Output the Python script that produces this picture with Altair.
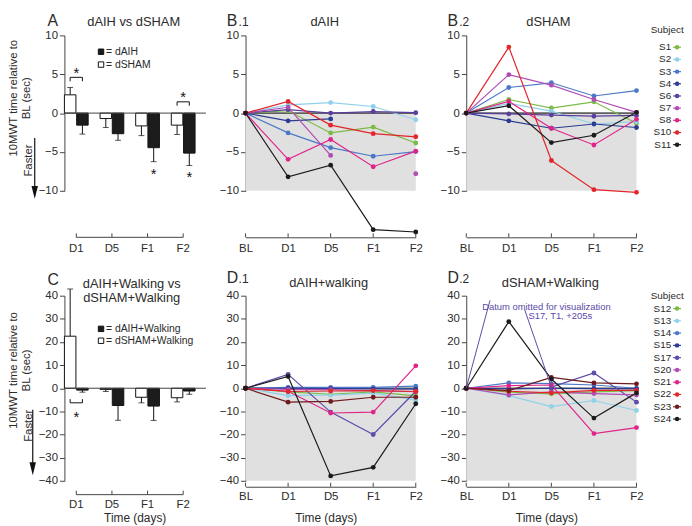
import altair as alt
import pandas as pd

FONT = "Liberation Sans"
INK = "#2b2b2b"
AXIS_C = "#444444"
SHADE = "#e0e0e0"
ANNOT = "#5b4aa8"

TIMES = ["BL", "D1", "D5", "F1", "F2"]
BAR_TIMES = ["D1", "D5", "F1", "F2"]
GROUPS = ["dSHAM", "dAIH"]

# Panel A (group mean change vs BL, s) and SEM
A_DAIH = [-1.55, -2.65, -4.45, -5.15]
A_DAIH_SEM = [1.15, 0.85, 1.80, 1.60]
A_DSHAM = [2.35, -0.70, -1.65, -1.55]
A_DSHAM_SEM = [0.95, 1.15, 1.25, 1.20]

# Panel C
C_DAIH = [-0.8, -7.45, -7.7, -1.2]
C_DAIH_SEM = [0.9, 6.4, 6.2, 1.4]
C_DSHAM = [22.5, -0.5, -3.9, -4.1]
C_DSHAM_SEM = [20.4, 0.9, 2.4, 1.8]

# significance markers: (time, bracket level, leg end) / (time, y) / (time, y)
A_BRACKETS = [("D1", 4.6, 4.1), ("F2", 1.45, 0.95)]
A_STARS_PAIR = [("D1", 5.6), ("F2", 2.4)]
A_STARS_BAR = [("F1", -7.5), ("F2", -7.9)]
C_BRACKETS = [("D1", -6.3, -4.7)]
C_STARS_PAIR = [("D1", -11.0)]
C_STARS_BAR = []

SUBJECTS_B = ["S1", "S2", "S3", "S4", "S6", "S7", "S8", "S10", "S11"]
COLORS_B = ["#7cba45", "#8fd1e8", "#4b79c8", "#2c3a92", "#5b3f9e",
            "#b24db5", "#e0258a", "#e2262b", "#1b1b1b"]
B1_DAIH = {
    "S1": [0, 0.3, -2.55, -1.8, -3.85],
    "S2": [0, 1.05, 1.35, 0.85, -0.85],
    "S3": [0, -2.55, -4.45, -5.55, -4.95],
    "S4": [0, -1.0, -0.75, None, None],
    "S6": [0, 0.45, 0.0, 0.2, 0.05],
    "S7": [0, 0.75, -5.45, None, -7.8],
    "S8": [0, -5.95, -3.4, -6.9, -4.9],
    "S10": [0, 1.5, -1.55, -2.65, -3.05],
    "S11": [0, -8.2, -6.7, -15.0, -15.3],
}
B2_DSHAM = {
    "S1": [0, 1.75, 0.65, 1.45, -1.3],
    "S2": [0, 1.25, 0.25, -1.4, -1.1],
    "S3": [0, 3.3, 3.9, 2.2, 2.9],
    "S4": [0, -1.0, -1.95, -1.4, -1.85],
    "S6": [0, -0.1, -0.25, -0.4, -0.3],
    "S7": [0, 4.95, 3.6, 1.75, 0.1],
    "S8": [0, 1.5, -1.95, -4.1, -0.8],
    "S10": [0, 8.5, -6.1, -9.85, -10.2],
    "S11": [0, 0.95, -3.8, -2.85, 0.1],
}

SUBJECTS_D = ["S12", "S13", "S14", "S15", "S17", "S20", "S21", "S22", "S23", "S24"]
COLORS_D = ["#7cba45", "#8fd1e8", "#4b79c8", "#2c3a92", "#5e4bab",
            "#b24db5", "#e0258a", "#e2262b", "#6f1b1e", "#1b1b1b"]
D1_DAIH_W = {
    "S12": [0, -1.6, -2.6, -1.6, -3.3],
    "S13": [0, -3.2, -3.0, -2.1, -5.0],
    "S14": [0, 0.4, 0.4, 0.4, 0.9],
    "S15": [0, 0.0, -0.2, -0.3, -0.4],
    "S17": [0, 6.0, -10.3, -20.0, -1.3],
    "S20": [0, -0.5, -0.6, -1.0, -1.5],
    "S21": [0, -1.3, -10.7, -10.3, 9.7],
    "S22": [0, -1.4, -1.2, -1.0, -1.4],
    "S23": [0, -6.0, -5.7, -3.9, -3.9],
    "S24": [0, 5.1, -37.9, -34.2, -6.7],
}
D2_DSHAM_W = {
    "S12": [0, -1.7, -2.4, -1.6, -1.0],
    "S13": [0, -3.2, -7.9, -5.3, -9.6],
    "S14": [0, 2.3, 2.0, 1.4, 0.0],
    "S15": [0, -0.3, 0.0, -0.2, -0.3],
    "S17": [0, None, 0.5, 6.6, -6.0],   # D1 (+205 s) omitted for visualization
    "S20": [0, -2.9, -1.6, -2.3, -2.9],
    "S21": [0, 1.1, 1.4, -19.6, -17.0],
    "S22": [0, -1.3, -2.0, -0.9, -0.9],
    "S23": [0, -1.0, 4.7, 2.3, 1.9],
    "S24": [0, 28.8, 4.0, -12.9, -2.0],
}

W_BAR, W_LINE, H1, H2 = 132, 172, 157, 187


def note(s, x, y, size=13, align="center", baseline="alphabetic", color=INK):
    return alt.Chart(pd.DataFrame({"t": [s]})).mark_text(
        align=align, baseline=baseline, fontSize=size, color=color, font=FONT
    ).encode(text="t:N", x=alt.value(x), y=alt.value(y))


def y_axis(vals, title_y=None):
    kw = dict(values=vals, labelOverlap=False, grid=False,
              tickSize=5, tickWidth=1, tickColor=AXIS_C,
              domainColor=AXIS_C, domainWidth=1, labelColor=INK, labelFontSize=11.5,
              labelPadding=2, format="d")
    if title_y is not None:
        kw.update(titleX=-57, titleY=title_y, titleAngle=270, titleAlign="center",
                  titleBaseline="top", titleFontSize=11.5, titleFontWeight="normal",
                  titleColor=INK, titleLineHeight=13)
    return alt.Axis(**kw)


def x_axis(off, pad, domain=True, title_x=None, title_pad=None):
    kw = dict(offset=off, ticks=False, domain=domain, domainColor=AXIS_C, domainWidth=1,
              labelAngle=0, labelPadding=pad, labelColor=INK, labelFontSize=11.5, grid=False,
              labelOverlap=False)
    if title_x is not None:
        kw.update(titleX=title_x, titlePadding=title_pad, titleFontSize=12,
                  titleFontWeight="normal", titleColor=INK)
    return alt.Axis(**kw)


Y_TITLE = ["10MWT time relative to", "BL (sec)"]


def bar_panel(daih, daih_sem, dsham, dsham_sem, ydom, yvals, H, x_off, x_pad,
              brackets, pair_stars, bar_stars, legend_labels, legend_py, faster,
              texts, x_title=None, x_title_x=None, x_title_pad=None):
    rows = []
    for i, t in enumerate(BAR_TIMES):
        for grp, vals, sems, fill in (("dSHAM", dsham, dsham_sem, "#ffffff"),
                                      ("dAIH", daih, daih_sem, "#1c1c1c")):
            v, s = vals[i], sems[i]
            rows.append({"time": t, "grp": grp, "value": v,
                         "err": v + (s if v > 0 else -s), "fill": fill})
    df = pd.DataFrame(rows)
    xscale = alt.Scale(domain=BAR_TIMES, paddingInner=1 / 3, paddingOuter=0)
    x_main = alt.X("time:N", sort=BAR_TIMES, scale=xscale,
                   title=x_title if x_title else None,
                   axis=x_axis(x_off, x_pad, domain=False, title_x=x_title_x, title_pad=x_title_pad))
    x_plain = alt.X("time:N", sort=BAR_TIMES, scale=xscale, axis=None)
    x_mid = alt.X("time:N", sort=BAR_TIMES, scale=xscale, bandPosition=0.5, axis=None)
    xo = alt.XOffset("grp:N", sort=GROUPS, scale=alt.Scale(domain=GROUPS, paddingInner=0.06))
    yscale = alt.Scale(domain=ydom, nice=False, zero=False)
    y_main = alt.Y("value:Q", scale=yscale, title=Y_TITLE,
                   axis=y_axis(yvals, title_y=round(0.4 * H)))
    y_plain = alt.Y("value:Q", scale=yscale, axis=None)

    bars = alt.Chart(df).mark_bar(stroke="#111111", strokeWidth=1).encode(
        x=x_main, xOffset=xo, y=y_main, color=alt.Color("fill:N", scale=None))
    zero = alt.Chart(pd.DataFrame({"value": [0.0]})).mark_rule(color=AXIS_C, strokeWidth=1).encode(
        y=y_plain, x=alt.value(0), x2=alt.value(W_BAR + 11))
    err = alt.Chart(df).mark_rule(color="#111111", strokeWidth=1).encode(
        x=x_plain, xOffset=xo, y=y_plain, y2="err:Q")
    caps = alt.Chart(df).mark_tick(color="#111111", thickness=1, size=6).encode(
        x=x_plain, xOffset=xo, y=alt.Y("err:Q", scale=yscale, axis=None))

    brk_rows = []
    for k, (t, level, leg) in enumerate(brackets):
        for seq, (g, v) in enumerate((("dSHAM", leg), ("dSHAM", level), ("dAIH", level), ("dAIH", leg))):
            brk_rows.append({"time": t, "grp": g, "value": v, "seq": seq, "id": k})
    layers = [bars, zero, err, caps]
    if brk_rows:
        layers.append(alt.Chart(pd.DataFrame(brk_rows)).mark_line(color="#111111", strokeWidth=1).encode(
            x=x_plain, xOffset=xo, y=y_plain, detail="id:N", order="seq:Q"))
    if pair_stars:
        sp = pd.DataFrame({"time": [s[0] for s in pair_stars], "value": [s[1] for s in pair_stars]})
        layers.append(alt.Chart(sp).mark_text(text="*", fontSize=15, baseline="middle", dy=3, color="#111111").encode(
            x=x_mid, y=y_plain))
    if bar_stars:
        sb = pd.DataFrame({"time": [s[0] for s in bar_stars], "grp": ["dAIH"] * len(bar_stars),
                           "value": [s[1] for s in bar_stars]})
        layers.append(alt.Chart(sb).mark_text(text="*", fontSize=15, baseline="middle", dy=3, color="#111111").encode(
            x=x_plain, xOffset=xo, y=y_plain))

    # detached category axis line with inward ticks
    base = H + x_off
    cats = pd.DataFrame({"time": BAR_TIMES})
    layers.append(alt.Chart(cats).mark_line(color=AXIS_C, strokeWidth=1).encode(x=x_mid, y=alt.value(base)))
    layers.append(alt.Chart(cats).mark_rule(color=AXIS_C, strokeWidth=1).encode(
        x=x_mid, y=alt.value(base - 4), y2=alt.value(base)))

    # key
    key = pd.DataFrame({"label": legend_labels, "fill": ["#1c1c1c", "#ffffff"], "py": legend_py})
    ky = alt.Y("py:Q", scale=None, axis=None)
    layers.append(alt.Chart(key).mark_square(size=30, stroke="#111111", strokeWidth=1, opacity=1).encode(
        x=alt.value(37), y=ky, color=alt.Color("fill:N", scale=None)))
    layers.append(alt.Chart(key).mark_text(align="left", baseline="middle", fontSize=10.5, color=INK).encode(
        x=alt.value(42), y=ky, text="label:N"))

    # "Faster" arrow
    tx, ty, ax, ay0, ahead = faster
    layers.append(alt.Chart(pd.DataFrame({"t": ["Faster"]})).mark_text(
        angle=270, align="center", baseline="middle", fontSize=11.5, color=INK).encode(
        text="t:N", x=alt.value(tx), y=alt.Y(datum=ty, scale=yscale, axis=None)))
    layers.append(alt.Chart(pd.DataFrame({"t": ["a"]})).mark_rule(color="#111111", strokeWidth=1.2).encode(
        x=alt.value(ax), y=alt.Y(datum=ay0, scale=yscale, axis=None), y2=alt.datum(ahead)))
    layers.append(alt.Chart(pd.DataFrame({"t": ["a"]})).mark_point(
        shape="M-0.5,-1L0.5,-1L0,1Z", filled=True, size=169, color="#111111", opacity=1).encode(
        x=alt.value(ax), y=alt.Y(datum=ahead, scale=yscale, axis=None)))

    layers.extend(texts)
    return alt.layer(*layers).resolve_axis(x="independent", y="independent").properties(width=W_BAR, height=H)


def lines_long(values, subjects, colors):
    rows = []
    for s, c in zip(subjects, colors):
        seg = 0
        for i, (t, v) in enumerate(zip(TIMES, values[s])):
            if v is None:
                seg += 1
                continue
            rows.append({"subject": s, "color": c, "time": t, "idx": i, "value": v, "seg": f"{s}-{seg}"})
    return pd.DataFrame(rows)


def line_panel(values, subjects, colors, ydom, yvals, H, x_off, x_pad, shade_lo, texts,
               legend=None, x_title=None, x_title_x=None, x_title_pad=None, extras=()):
    df = lines_long(values, subjects, colors)
    xscale = alt.Scale(type="point", domain=TIMES, padding=0)
    x_main = alt.X("time:N", sort=TIMES, scale=xscale, title=x_title if x_title else None,
                   axis=x_axis(x_off, x_pad, title_x=x_title_x, title_pad=x_title_pad))
    x_plain = alt.X("time:N", sort=TIMES, scale=xscale, axis=None)
    yscale = alt.Scale(domain=ydom, nice=False, zero=False)
    y_main = alt.Y("value:Q", scale=yscale, title=None, axis=y_axis(yvals))
    y_plain = alt.Y("value:Q", scale=yscale, axis=None)
    col = alt.Color("color:N", scale=None)

    shade = alt.Chart(pd.DataFrame({"time": [TIMES[0]], "time2": [TIMES[-1]],
                                    "value": [0.0], "value2": [shade_lo]})).mark_rect(color=SHADE).encode(
        x=x_main, x2="time2:N", y=y_main, y2="value2:Q")
    zero = alt.Chart(pd.DataFrame({"value": [0.0]})).mark_rule(color="#5f5f5f", strokeWidth=1.6).encode(y=y_plain)
    lines = alt.Chart(df).mark_line(strokeWidth=1.2).encode(
        x=x_plain, y=y_plain, color=col, detail="seg:N", order="idx:Q")
    pts = alt.Chart(df).mark_circle(size=24, opacity=1).encode(x=x_plain, y=y_plain, color=col)
    base = H + x_off
    ticks = alt.Chart(pd.DataFrame({"time": TIMES})).mark_rule(color=AXIS_C, strokeWidth=1).encode(
        x=x_plain, y=alt.value(base - 4), y2=alt.value(base))
    layers = [shade, zero, lines, pts, ticks] + list(extras) + list(texts)

    if legend is not None:
        top, step, head_y = legend
        leg = pd.DataFrame({"subject": subjects, "color": colors,
                            "py": [top + i * step for i in range(len(subjects))]})
        ly = alt.Y("py:Q", scale=None, axis=None)
        layers.append(alt.Chart(leg).mark_text(align="right", baseline="middle", fontSize=10, color=INK).encode(
            text="subject:N", x=alt.value(207), y=ly))
        layers.append(alt.Chart(leg).mark_rule(strokeWidth=1.2).encode(
            x=alt.value(209), x2=alt.value(217), y=ly, color=col))
        layers.append(alt.Chart(leg).mark_circle(size=20, opacity=1).encode(x=alt.value(213), y=ly, color=col))
        layers.append(note("Subject", 203, head_y, size=10, baseline="middle"))
    return alt.layer(*layers).resolve_axis(x="independent", y="independent").properties(width=W_LINE, height=H)


def panel_letter(letter, sub, y):
    return [note(letter, -19, y, size=16, align="left"), note(sub, -7, y, size=12, align="left")]


panel_a = bar_panel(
    A_DAIH, A_DAIH_SEM, A_DSHAM, A_DSHAM_SEM, [-10, 10], [-10, -5, 0, 5, 10], H1, 47, 5,
    A_BRACKETS, A_STARS_PAIR, A_STARS_BAR, ["= dAIH", "= dSHAM"], [16.5, 29.5],
    (-36, -6.1, -30, -3.2, -10.2),
    [note("A", -17, -10, size=16, align="left"), note("dAIH vs dSHAM", 70, -10)],
)
panel_c = bar_panel(
    C_DAIH, C_DAIH_SEM, C_DSHAM, C_DSHAM_SEM, [-40, 40], list(range(-40, 41, 10)), H2, 14, 4,
    C_BRACKETS, C_STARS_PAIR, C_STARS_BAR, ["= dAIH+Walking", "= dSHAM+Walking"], [33.5, 45.5],
    (-36, -16.2, -32, -9.3, -34.8),
    [note("C", -17, -11, size=16, align="left"), note("dAIH+Walking vs", 68, -8),
     note("dSHAM+Walking", 68, 6)],
    x_title="Time (days)", x_title_x=71, x_title_pad=3,
)

panel_b1 = line_panel(B1_DAIH, SUBJECTS_B, COLORS_B, [-10, 10], [-10, -5, 0, 5, 10], H1, 47, 5, -10,
                      panel_letter("B", ".1", -10) + [note("dAIH", 80, -10)])
panel_b2 = line_panel(B2_DSHAM, SUBJECTS_B, COLORS_B, [-10, 10], [-10, -5, 0, 5, 10], H1, 47, 5, -10,
                      panel_letter("B", ".2", -10) + [note("dSHAM", 83, -10)],
                      legend=(12, 12.3, -5))
panel_d1 = line_panel(D1_DAIH_W, SUBJECTS_D, COLORS_D, [-40, 40], list(range(-40, 41, 10)), H2, 6, 4, -40,
                      panel_letter("D", ".1", -13) + [note("dAIH+walking", 84, -9)],
                      x_title="Time (days)", x_title_x=81, x_title_pad=11)

yscale_d = alt.Scale(domain=[-40, 40], nice=False, zero=False)
omit_lines = [
    alt.Chart(pd.DataFrame({"t": ["a"]})).mark_rule(color=ANNOT, strokeWidth=1).encode(
        x=alt.value(0), x2=alt.value(24), y=alt.Y(datum=0, scale=yscale_d, axis=None), y2=alt.datum(38)),
    alt.Chart(pd.DataFrame({"t": ["a"]})).mark_rule(color=ANNOT, strokeWidth=1).encode(
        x=alt.value(59), x2=alt.value(86), y=alt.Y(datum=34, scale=yscale_d, axis=None), y2=alt.datum(0.5)),
]
omit_text = [
    alt.Chart(pd.DataFrame({"t": ["Datum omitted for visualization"]})).mark_text(
        fontSize=9.5, color=ANNOT, align="center").encode(
        text="t:N", x=alt.value(81), y=alt.Y(datum=35.3, scale=yscale_d, axis=None)),
    alt.Chart(pd.DataFrame({"t": ["S17, T1, +205s"]})).mark_text(
        fontSize=9.5, color=ANNOT, align="center").encode(
        text="t:N", x=alt.value(95), y=alt.Y(datum=31.0, scale=yscale_d, axis=None)),
]
panel_d2 = line_panel(D2_DSHAM_W, SUBJECTS_D, COLORS_D, [-40, 40], list(range(-40, 41, 10)), H2, 6, 4, -40,
                      panel_letter("D", ".2", -13) + [note("dSHAM+Walking", 85, -9)],
                      legend=(13, 12.4, 0),
                      x_title="Time (days)", x_title_x=81, x_title_pad=11,
                      extras=omit_lines + omit_text)

chart = alt.concat(
    panel_a, panel_b1, panel_b2, panel_c, panel_d1, panel_d2,
    columns=3, spacing={"row": 106, "column": 51}, bounds="flush", align="each",
).properties(
    padding={"left": 0, "right": 0, "top": 2, "bottom": 0}
).configure(
    font=FONT
).configure_view(
    stroke=None
).configure_axis(
    labelFont=FONT, titleFont=FONT
)

chart.save("out.html", embed_options={"renderer": "svg", "actions": False})
